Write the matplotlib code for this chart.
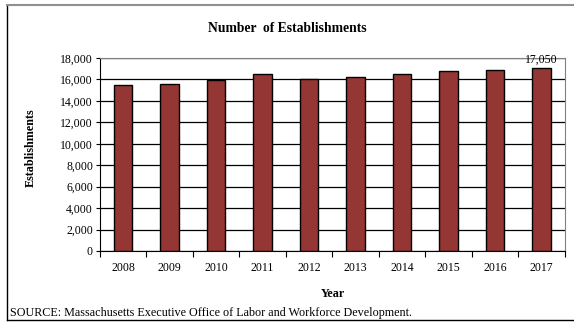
import matplotlib
matplotlib.use('Agg')
import matplotlib.pyplot as plt
from matplotlib.lines import Line2D
from matplotlib.ticker import FuncFormatter, FixedLocator
import numpy as np

# data
years = ['2008', '2009', '2010', '2011', '2012', '2013', '2014', '2015', '2016', '2017']
establishments = [15440, 15540, 15930, 16460, 16050, 16250, 16550, 16770, 16860, 17050]
label_year = '2017'
label_text = '17,050'

plt.rcParams['font.family'] = ['Liberation Serif', 'DejaVu Serif']

fig = plt.figure(figsize=(5.74, 3.22), dpi=100)
ax = fig.add_axes([0.174, 0.2205, 0.8095, 0.5995])

x = np.arange(len(years))
ax.bar(x, establishments, width=0.4, color='#943634', edgecolor='black', linewidth=1.0, zorder=3)

ax.set_xlim(-0.5, len(years) - 0.5)
ax.set_ylim(0, 18000)
ax.set_yticks(np.arange(0, 18001, 2000))
ax.yaxis.set_major_formatter(FuncFormatter(lambda v, p: f'{int(v):,}'))
ax.yaxis.grid(True, color='black', linewidth=0.9, zorder=0)

# category labels centred, tick marks between categories
ax.xaxis.set_major_locator(FixedLocator(np.arange(-0.5, len(years), 1.0)))
ax.xaxis.set_major_formatter(FuncFormatter(lambda v, p: ''))
ax.xaxis.set_minor_locator(FixedLocator(x))
ax.set_xticklabels(years, minor=True)
ax.tick_params(axis='x', which='minor', length=0, pad=8, labelsize=8.5)
ax.tick_params(axis='x', which='major', direction='out', length=4, color='black')
ax.tick_params(axis='y', direction='out', length=3, labelsize=8.5, pad=2)

for side in ['top', 'right']:
    ax.spines[side].set_color('#808080')
ax.spines['left'].set_color('black')
ax.spines['bottom'].set_color('black')

i = years.index(label_year)
ax.text(x[i], establishments[i] + 180, label_text, ha='center', va='bottom', fontsize=8.5, zorder=4)

fig.text(0.5, 0.91, 'Number  of Establishments', ha='center', va='center', fontsize=9.8, fontweight='bold')
fig.text(0.054, 0.54, 'Establishments', ha='center', va='center', rotation=90, fontsize=8.7, fontweight='bold')
fig.text(0.58, 0.087, 'Year', ha='center', va='center', fontsize=8.7, fontweight='bold')
fig.text(0.017, 0.028, 'SOURCE: Massachusetts Executive Office of Labor and Workforce Development.',
         ha='left', va='center', fontsize=8.7)

# outer frame (left, top, bottom)
fig.add_artist(Line2D([0.012, 0.012], [0.005, 0.984], color='black', linewidth=1.0))
fig.add_artist(Line2D([0.012, 1.0], [0.984, 0.984], color='#909090', linewidth=1.5))
fig.add_artist(Line2D([0.012, 1.0], [0.005, 0.005], color='black', linewidth=1.0))

plt.savefig('out.png', dpi=100)
